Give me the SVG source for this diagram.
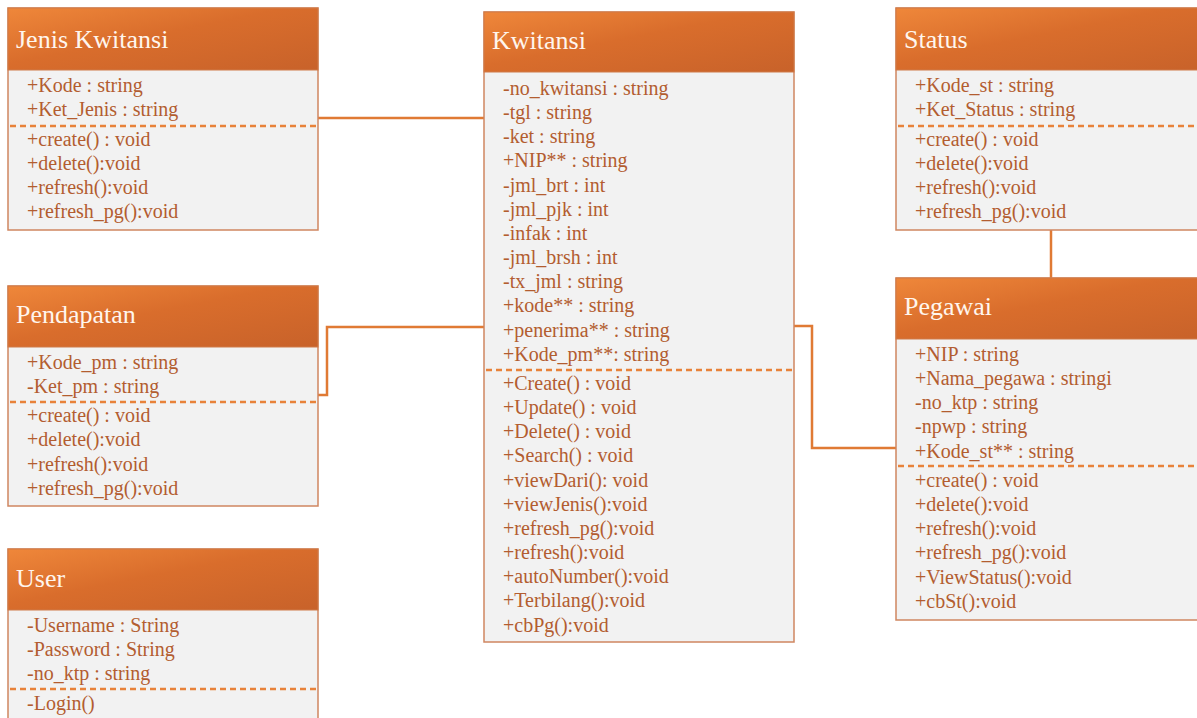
<svg xmlns="http://www.w3.org/2000/svg" width="1197" height="718" viewBox="0 0 1197 718" font-family="'Liberation Serif', 'Times New Roman', 'DejaVu Serif', serif">
  <defs>
    <linearGradient id="hdr" x1="0" y1="0" x2="1" y2="1">
      <stop offset="0" stop-color="#ef873a"/>
      <stop offset="0.45" stop-color="#d96d2c"/>
      <stop offset="1" stop-color="#c8622a"/>
    </linearGradient>
    <style>
      .body { fill: #f2f2f2; stroke: #cf8660; stroke-width: 1.5; }
      .head { fill: url(#hdr); stroke: #cf7a48; stroke-width: 1; }
      .title { font-family: 'Liberation Serif', 'Times New Roman', 'DejaVu Serif', serif; font-size: 26px; fill: #fff6ee; }
      .row { font-family: 'Liberation Serif', 'Times New Roman', 'DejaVu Serif', serif; font-size: 20px; fill: #b35d30; }
      .sep { stroke: #e8823a; stroke-width: 2.5; stroke-dasharray: 6 4; fill: none; }
      .conn { stroke: #e07a34; stroke-width: 2.5; fill: none; }
    </style>
  </defs>
  <rect width="1197" height="718" fill="#ffffff"/>

  <!-- associations -->
  <g id="connectors">
    <path class="conn" d="M318 118 H484"/>
    <path class="conn" d="M318 395 H327 V327 H484"/>
    <path class="conn" d="M794 326 H812 V448 H896"/>
    <path class="conn" d="M1051 230 V278"/>
  </g>

  <g id="jenis-kwitansi">
    <rect class="body" x="8" y="8" width="310" height="222"/>
    <rect class="head" x="8" y="8" width="310" height="62"/>
    <text class="title" x="16" y="48">Jenis Kwitansi</text>
    <text class="row" x="27" y="92">+Kode : string</text>
    <text class="row" x="27" y="116">+Ket_Jenis : string</text>
    <line class="sep" x1="10" y1="126" x2="316" y2="126"/>
    <text class="row" x="27" y="146">+create() : void</text>
    <text class="row" x="27" y="170">+delete():void</text>
    <text class="row" x="27" y="194">+refresh():void</text>
    <text class="row" x="27" y="218">+refresh_pg():void</text>
  </g>

  <g id="pendapatan">
    <rect class="body" x="8" y="286" width="310" height="220"/>
    <rect class="head" x="8" y="286" width="310" height="61"/>
    <text class="title" x="16" y="323">Pendapatan</text>
    <text class="row" x="27" y="369">+Kode_pm : string</text>
    <text class="row" x="27" y="393">-Ket_pm : string</text>
    <line class="sep" x1="10" y1="402" x2="316" y2="402"/>
    <text class="row" x="27" y="422">+create() : void</text>
    <text class="row" x="27" y="446">+delete():void</text>
    <text class="row" x="27" y="471">+refresh():void</text>
    <text class="row" x="27" y="495">+refresh_pg():void</text>
  </g>

  <g id="user">
    <rect class="body" x="8" y="549" width="310" height="180"/>
    <rect class="head" x="8" y="549" width="310" height="61"/>
    <text class="title" x="16" y="587">User</text>
    <text class="row" x="27" y="632">-Username : String</text>
    <text class="row" x="27" y="656">-Password : String</text>
    <text class="row" x="27" y="680">-no_ktp : string</text>
    <line class="sep" x1="10" y1="689" x2="316" y2="689"/>
    <text class="row" x="27" y="710">-Login()</text>
  </g>

  <g id="kwitansi">
    <rect class="body" x="484" y="12" width="310" height="630"/>
    <rect class="head" x="484" y="12" width="310" height="60"/>
    <text class="title" x="492" y="49">Kwitansi</text>
    <text class="row" x="503" y="95">-no_kwitansi : string</text>
    <text class="row" x="503" y="119">-tgl : string</text>
    <text class="row" x="503" y="143">-ket : string</text>
    <text class="row" x="503" y="167">+NIP** : string</text>
    <text class="row" x="503" y="192">-jml_brt : int</text>
    <text class="row" x="503" y="216">-jml_pjk : int</text>
    <text class="row" x="503" y="240">-infak : int</text>
    <text class="row" x="503" y="264">-jml_brsh : int</text>
    <text class="row" x="503" y="288">-tx_jml : string</text>
    <text class="row" x="503" y="312">+kode** : string</text>
    <text class="row" x="503" y="337">+penerima** : string</text>
    <text class="row" x="503" y="361">+Kode_pm**: string</text>
    <line class="sep" x1="486" y1="370" x2="792" y2="370"/>
    <text class="row" x="503" y="390">+Create() : void</text>
    <text class="row" x="503" y="414">+Update() : void</text>
    <text class="row" x="503" y="438">+Delete() : void</text>
    <text class="row" x="503" y="462">+Search() : void</text>
    <text class="row" x="503" y="487">+viewDari(): void</text>
    <text class="row" x="503" y="511">+viewJenis():void</text>
    <text class="row" x="503" y="535">+refresh_pg():void</text>
    <text class="row" x="503" y="559">+refresh():void</text>
    <text class="row" x="503" y="583">+autoNumber():void</text>
    <text class="row" x="503" y="607">+Terbilang():void</text>
    <text class="row" x="503" y="632">+cbPg():void</text>
  </g>

  <g id="status">
    <rect class="body" x="896" y="8" width="310" height="222"/>
    <rect class="head" x="896" y="8" width="310" height="62"/>
    <text class="title" x="904" y="48">Status</text>
    <text class="row" x="915" y="92">+Kode_st : string</text>
    <text class="row" x="915" y="116">+Ket_Status : string</text>
    <line class="sep" x1="898" y1="126" x2="1204" y2="126"/>
    <text class="row" x="915" y="146">+create() : void</text>
    <text class="row" x="915" y="170">+delete():void</text>
    <text class="row" x="915" y="194">+refresh():void</text>
    <text class="row" x="915" y="218">+refresh_pg():void</text>
  </g>

  <g id="pegawai">
    <rect class="body" x="896" y="278" width="310" height="342"/>
    <rect class="head" x="896" y="278" width="310" height="61"/>
    <text class="title" x="904" y="315">Pegawai</text>
    <text class="row" x="915" y="361">+NIP : string</text>
    <text class="row" x="915" y="385">+Nama_pegawa : stringi</text>
    <text class="row" x="915" y="409">-no_ktp : string</text>
    <text class="row" x="915" y="433">-npwp : string</text>
    <text class="row" x="915" y="458">+Kode_st** : string</text>
    <line class="sep" x1="898" y1="466" x2="1204" y2="466"/>
    <text class="row" x="915" y="487">+create() : void</text>
    <text class="row" x="915" y="511">+delete():void</text>
    <text class="row" x="915" y="535">+refresh():void</text>
    <text class="row" x="915" y="559">+refresh_pg():void</text>
    <text class="row" x="915" y="584">+ViewStatus():void</text>
    <text class="row" x="915" y="608">+cbSt():void</text>
  </g>
</svg>
